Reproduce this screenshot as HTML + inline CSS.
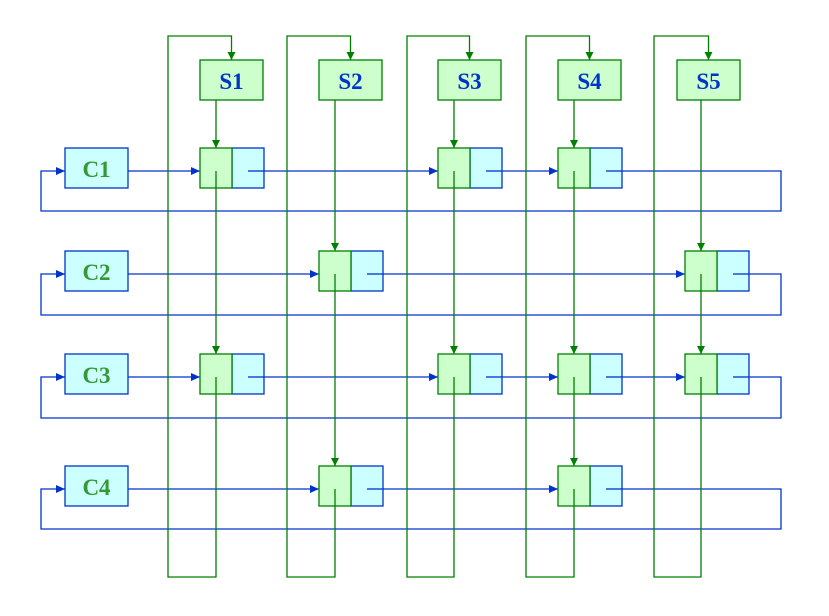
<!DOCTYPE html>
<html><head><meta charset="utf-8"><style>
html,body{margin:0;padding:0;background:#fff;width:829px;height:616px;overflow:hidden}
text{font-family:"Liberation Serif",serif;font-weight:bold;font-size:23px}
</style></head><body>
<svg id="g" width="829" height="616" xmlns="http://www.w3.org/2000/svg">
<defs>
<marker id="ag" markerWidth="8" markerHeight="8" refX="8" refY="4" orient="auto" markerUnits="userSpaceOnUse"><path d="M0,0L8,4L0,8z" fill="#008000"/></marker>
<marker id="ab" markerWidth="9" markerHeight="8" refX="9" refY="4" orient="auto" markerUnits="userSpaceOnUse"><path d="M0,0L9,4L0,8z" fill="#0033cc"/></marker>
</defs>
</svg>
<script>
const colNames=["S1","S2","S3","S4","S5"];
const rowNames=["C1","C2","C3","C4"];
const cells=[[0,2,3],[1,4],[0,2,3,4],[1,3]];
const colX=[200,319,438,558,685];
const headX=[200,319,438,558,677];
const loopX=[168,287,407,526,654];
const rowY=[148,251,354,466];
const retY=[211,315,418,529];
const G="#008000",B="#0033cc",NS="http://www.w3.org/2000/svg";
const svg=document.getElementById('g');
function el(t,a,name){const e=document.createElementNS(NS,t);for(const k in a)e.setAttribute(k,a[k]);


svg.appendChild(e);return e;}
rowNames.forEach((n,r)=>{
  const cy=rowY[r]+23;
  const xs=cells[r].map(c=>colX[c]);
  el('line',{x1:128,y1:cy,x2:xs[0],y2:cy,stroke:B,'stroke-width':1.3,'marker-end':'url(#ab)'},'row-link');
  for(let i=1;i<xs.length;i++) el('line',{x1:xs[i-1]+48,y1:cy,x2:xs[i],y2:cy,stroke:B,'stroke-width':1.3,'marker-end':'url(#ab)'},'row-link');
  const last=xs[xs.length-1]+48;
  el('polyline',{points:`${last},${cy} 781,${cy} 781,${retY[r]} 41,${retY[r]} 41,${cy} 65,${cy}`,fill:'none',stroke:B,'stroke-width':1.3,'marker-end':'url(#ab)'},'row-return-link');
});
colNames.forEach((n,c)=>{
  const x=colX[c]+16;
  const rows=[];cells.forEach((cs,r)=>{if(cs.includes(c))rows.push(r);});
  el('line',{x1:x,y1:100,x2:x,y2:rowY[rows[0]],stroke:G,'stroke-width':1.3,'marker-end':'url(#ag)'},'column-link');
  for(let i=1;i<rows.length;i++) el('line',{x1:x,y1:rowY[rows[i-1]]+23,x2:x,y2:rowY[rows[i]],stroke:G,'stroke-width':1.3,'marker-end':'url(#ag)'},'column-link');
  const ly=rowY[rows[rows.length-1]]+23;
  el('polyline',{points:`${x},${ly} ${x},577 ${loopX[c]},577 ${loopX[c]},36 ${headX[c]+31.5},36 ${headX[c]+31.5},60`,fill:'none',stroke:G,'stroke-width':1.3,'marker-end':'url(#ag)'},'column-return-link');
  el('rect',{x:headX[c],y:60,width:63,height:40,fill:'#ccffcc',stroke:G,'stroke-width':1.3},'column-head-'+n.toLowerCase());
  const t=el('text',{x:headX[c]+31.5,y:89,'text-anchor':'middle',fill:'#0033cc'},'column-label');t.textContent=n;
});
cells.forEach((cs,r)=>cs.forEach(c=>{
  const x=colX[c],y=rowY[r];
  el('rect',{x:x+32,y:y,width:32,height:40,fill:'#ccffff',stroke:B,'stroke-width':1.3},'node-right');
  el('rect',{x:x,y:y,width:32,height:40,fill:'#ccffcc',stroke:G,'stroke-width':1.3},'node-left');
  el('line',{x1:x+16,y1:y+23,x2:x+16,y2:y+40,stroke:G,'stroke-width':1.3},'node-down-ptr');
  el('line',{x1:x+48,y1:y+23,x2:x+64,y2:y+23,stroke:B,'stroke-width':1.3},'node-right-ptr');
}));
rowNames.forEach((n,r)=>{
  el('rect',{x:65,y:rowY[r],width:63,height:40,fill:'#ccffff',stroke:B,'stroke-width':1.3},'row-head-'+n.toLowerCase());
  const t=el('text',{x:96.5,y:rowY[r]+29,'text-anchor':'middle',fill:'#339933'},'row-label');t.textContent=n;
});
</script>
</body></html>
